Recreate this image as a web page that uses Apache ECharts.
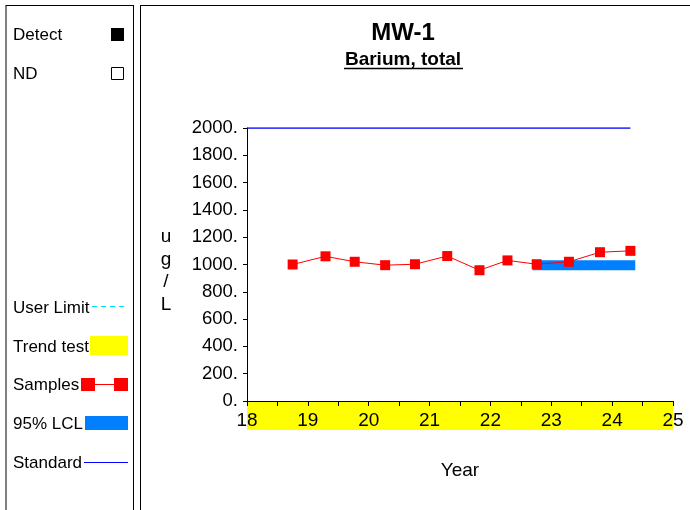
<!DOCTYPE html>
<html><head><meta charset="utf-8">
<script src="https://cdn.jsdelivr.net/npm/echarts@6/dist/echarts.min.js"></script>
<style>html,body{margin:0;padding:0;background:#fff}#c{width:690px;height:510px}</style>
</head><body><div id="c"></div>
<script>
// ---- data ----
const sampleYears  = [18.75, 19.29, 19.77, 20.27, 20.76, 21.29, 21.82, 22.28, 22.76, 23.29, 23.80, 24.30];
const sampleValues = [1000, 1060, 1020, 995, 1002, 1062, 958, 1030, 1002, 1020, 1090, 1100];
const standardYears = [18, 24.3];
const standardValue = 2000;
const lclYears = [22.69, 24.38];
const lclValue = 994;
const trendYears = [18, 25];
const yMin = 0, yMax = 2000, yStep = 200;
const xMin = 18, xMax = 25, xStep = 1;
const legendLabels = ['Detect', 'ND', 'User Limit', 'Trend test', 'Samples', '95% LCL', 'Standard'];
const titleText = 'MW-1';
const subtitleText = 'Barium, total';
const yName = 'ug/L';
const xName = 'Year';

const F = "'Liberation Sans', Arial, sans-serif";
const chart = echarts.init(document.getElementById('c'), null, {renderer: 'canvas'});

const txt = (s, x, y, extra) => Object.assign({
  type: 'text', x: x, y: y, silent: true,
  style: Object.assign({text: s, fill: '#000', font: '17px ' + F, textVerticalAlign: 'middle', verticalAlign: 'middle'}, extra || {})
});
const line = (x1, y1, x2, y2, stroke, w, dash) => ({
  type: 'line', silent: true,
  shape: {x1: x1, y1: y1, x2: x2, y2: y2},
  style: {stroke: stroke, lineWidth: w || 1, lineDash: dash || null}
});
const rect = (x, y, w, h, style) => ({type: 'rect', silent: true, shape: {x: x, y: y, width: w, height: h}, style: style});

const graphics = [
  // panels
  line(6, 5, 6, 515, '#808080', 2),
  line(6, 5.5, 134, 5.5, '#000', 1),
  line(133.5, 5, 133.5, 515, '#000', 1),
  line(140.5, 5, 140.5, 515, '#000', 1),
  line(140, 5.5, 690, 5.5, '#000', 1),
  // title
  txt(titleText, 403, 33, {font: 'bold 24px ' + F, textAlign: 'center', align: 'center'}),
  txt(subtitleText, 403, 60, {font: 'bold 19px ' + F, textAlign: 'center', align: 'center'}),
  line(344, 68.5, 463, 68.5, '#000', 1.6),
  // y-axis name (stacked letters)
  txt(yName.split('').join('\n'), 166, 271, {font: '19px ' + F, textAlign: 'center', align: 'center', lineHeight: 22.5}),
  // legend
  txt(legendLabels[0], 13, 35.5), rect(111, 28, 13, 13, {fill: '#000'}),
  txt(legendLabels[1], 13, 74.5), rect(111.5, 67.5, 12, 12, {fill: '#fff', stroke: '#000', lineWidth: 1}),
  txt(legendLabels[2], 13, 308.5), line(92, 306.5, 128, 306.5, '#00e5ff', 1, [5, 4]),
  txt(legendLabels[3], 13, 347.5), rect(90, 336, 38, 19, {fill: '#ffff00'}),
  txt(legendLabels[4], 13, 385.5), line(95, 384.5, 114, 384.5, '#ff0000', 1),
  rect(81, 378, 14, 13, {fill: '#ff0000'}), rect(114, 378, 14, 13, {fill: '#ff0000'}),
  txt(legendLabels[5], 13, 424.5), rect(85, 416, 43, 14, {fill: '#0080ff'}),
  txt(legendLabels[6], 13, 463.5), line(84, 462.5, 128, 462.5, '#0000ff', 1)
];

const option = {
  animation: false,
  backgroundColor: '#fff',
  textStyle: {fontFamily: F, color: '#000'},
  grid: [
    {left: 247, top: 128, width: 426, height: 273, containLabel: false},
    {left: 247, top: 401, width: 426, height: 29, containLabel: false}
  ],
  xAxis: [
    {gridIndex: 0, type: 'value', min: xMin, max: xMax, interval: xStep, z: 10,
     axisLine: {show: true, onZero: false, lineStyle: {color: '#000', width: 1}},
     axisTick: {show: true, length: 5, lineStyle: {color: '#000'}},
     minorTick: {show: true, splitNumber: 2, length: 5, lineStyle: {color: '#000'}},
     splitLine: {show: false}, minorSplitLine: {show: false},
     axisLabel: {show: true, color: '#000', fontSize: 19, fontFamily: F, margin: 10, showMinLabel: true, showMaxLabel: true},
     name: xName, nameLocation: 'middle', nameGap: 60,
     nameTextStyle: {color: '#000', fontSize: 19, fontFamily: F}},
    {gridIndex: 1, type: 'value', min: xMin, max: xMax, show: false}
  ],
  yAxis: [
    {gridIndex: 0, type: 'value', min: yMin, max: yMax, interval: yStep,
     axisLine: {show: true, onZero: false, lineStyle: {color: '#000', width: 1}},
     axisTick: {show: true, length: 4, lineStyle: {color: '#000'}},
     splitLine: {show: false},
     axisLabel: {show: true, color: '#000', fontSize: 18.5, fontFamily: F, margin: 9,
                 showMinLabel: true, showMaxLabel: true, formatter: v => v + '.'}},
    {gridIndex: 1, type: 'value', min: 0, max: 1, show: false}
  ],
  series: [
    {name: 'Trend test', type: 'line', xAxisIndex: 1, yAxisIndex: 1, z: 0, silent: true,
     data: trendYears.map(x => [x, 1]), symbol: 'none',
     lineStyle: {width: 0}, areaStyle: {color: '#ffff00', opacity: 1}},
    {name: 'Standard', type: 'line', xAxisIndex: 0, yAxisIndex: 0, z: 2,
     data: standardYears.map(x => [x, standardValue]), symbol: 'none',
     lineStyle: {color: '#0000ff', width: 1.5}},
    {name: '95% LCL', type: 'line', xAxisIndex: 0, yAxisIndex: 0, z: 3,
     data: lclYears.map(x => [x, lclValue]), symbol: 'none',
     lineStyle: {color: '#0080ff', width: 10, cap: 'butt'}},
    {name: 'Samples', type: 'line', xAxisIndex: 0, yAxisIndex: 0, z: 5,
     data: sampleYears.map((x, i) => [x, sampleValues[i]]),
     symbol: 'rect', symbolSize: 10, showAllSymbol: true,
     itemStyle: {color: '#ff0000'}, lineStyle: {color: '#ff0000', width: 1}}
  ],
  graphic: graphics
};
chart.setOption(option);
</script></body></html>
